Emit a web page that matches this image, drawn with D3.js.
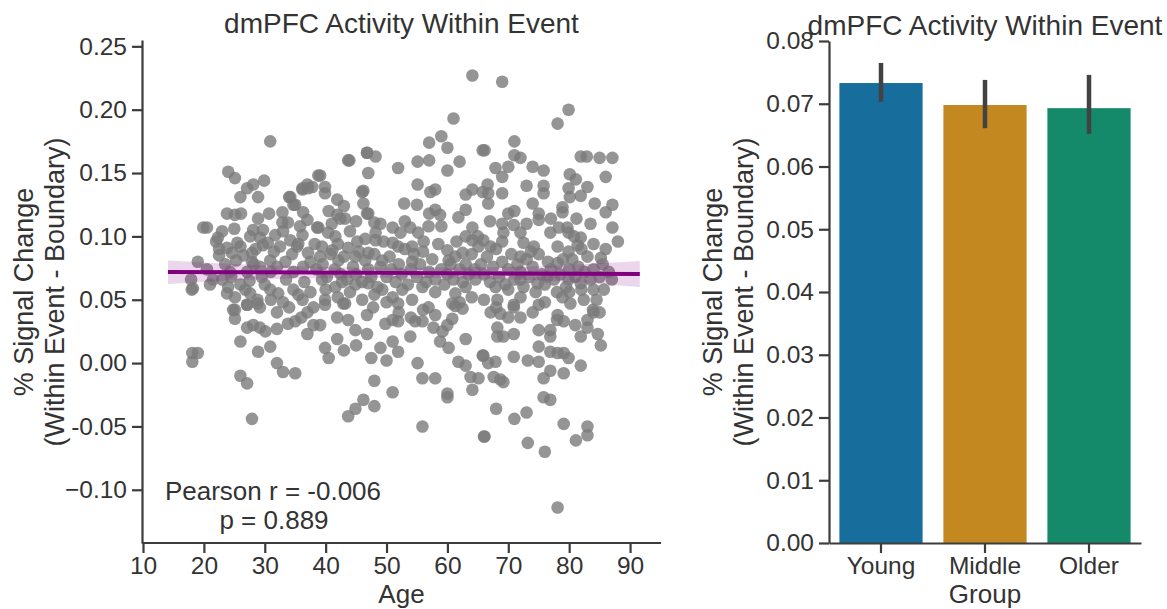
<!DOCTYPE html>
<html>
<head>
<meta charset="utf-8">
<script src="https://cdn.jsdelivr.net/npm/d3@7"></script>
<style>
  body { margin: 0; background: #fff; }
  svg text { font-family: "Liberation Sans", Arial, sans-serif; fill: #333; }
  .axis path, .axis line { stroke: #3c3c3c; stroke-width: 2.2; }
  .axis text { font-size: 24.5px; }
</style>
</head>
<body>
<svg id="chart" width="1167" height="609"></svg>
<script>
// scatter: [age, % signal change]
const scatterPoints = [
  [18.1,0.008],[19.0,0.008],[18.1,0.001],[18.2,0.059],[17.9,0.066],[19.0,0.080],[20.5,0.107],[19.9,0.107],
  [22.0,0.096],[21.5,0.066],[23.0,0.066],[20.5,0.074],[22.5,0.090],[21.0,0.062],[18.0,0.058],
  [24.0,0.151],[25.1,0.146],[27.1,0.138],[28.1,0.141],[26.0,0.131],[29.9,0.144],[28.9,0.131],[30.9,0.175],
  [23.8,0.118],[25.1,0.117],[26.1,0.118],[28.9,0.114],[30.7,0.118],[22.3,0.099],[23.8,0.091],[24.6,0.087],
  [25.3,0.081],[26.0,0.092],[27.6,0.100],[28.1,0.105],[29.7,0.105],[29.2,0.099],[27.9,0.087],[29.7,0.093],
  [31.7,0.101],[32.9,0.111],[33.8,0.111],[34.0,0.131],[35.0,0.125],[36.2,0.138],[37.0,0.141],[38.8,0.148],
  [24.3,0.072],[27.1,0.072],[27.9,0.080],[29.2,0.076],[30.9,0.081],[32.0,0.076],[33.4,0.080],[34.7,0.072],
  [36.3,0.076],[37.1,0.087],[35.3,0.092],[34.2,0.097],[36.2,0.101],[37.0,0.113],[38.6,0.107],
  [23.8,0.055],[25.1,0.052],[26.0,0.062],[27.6,0.055],[28.8,0.050],[24.8,0.042],[27.1,0.046],[29.2,0.044],
  [30.9,0.058],[32.2,0.055],[33.0,0.048],[34.7,0.058],[36.2,0.050],[37.0,0.040],[38.0,0.044],
  [25.1,0.042],[25.1,0.035],[27.1,0.028],[28.1,0.030],[29.2,0.028],[30.1,0.025],[26.0,0.017],[28.9,0.009],
  [30.9,0.013],[32.0,0.027],[33.8,0.031],[35.0,0.033],[37.0,0.023],[32.0,0.000],[33.0,-0.007],[35.0,-0.008],
  [26.0,-0.010],[27.1,-0.016],[27.9,-0.044],[27.1,0.046],[28.8,0.047],
  [64.1,0.227],[61.0,0.193],[57.0,0.174],[59.0,0.179],[60.0,0.170],[62.0,0.159],[65.8,0.168],
  [43.9,0.160],[46.8,0.166],[48.2,0.163],[47.0,0.150],[51.9,0.154],[55.1,0.159],[57.0,0.160],[60.0,0.152],
  [39.1,0.148],[39.9,0.139],[39.9,0.134],[41.9,0.129],[46.2,0.136],[46.2,0.126],[55.1,0.141],[57.2,0.135],
  [58.0,0.137],[52.9,0.126],[41.9,0.117],[43.2,0.114],[47.0,0.118],[48.0,0.111],[58.0,0.121],[58.8,0.117],
  [63.0,0.133],[64.1,0.137],[65.8,0.135],[61.8,0.115],[63.0,0.121],[56.9,0.108],[64.1,0.107],
  [38.8,0.107],[40.4,0.103],[41.6,0.100],[39.4,0.092],[41.1,0.089],[43.7,0.091],[45.2,0.096],[47.0,0.087],
  [48.2,0.103],[48.2,0.097],[51.0,0.107],[52.3,0.103],[53.9,0.107],[55.2,0.103],[56.1,0.096],[54.2,0.092],
  [51.9,0.092],[51.0,0.095],[60.0,0.089],[61.3,0.084],[62.5,0.087],[64.1,0.097],[65.1,0.092],[44.9,0.084],
  [46.5,0.081],[49.3,0.081],[42.1,0.081],[54.2,0.080],[60.2,0.081],[39.1,0.084],
  [39.4,0.066],[41.6,0.060],[42.7,0.064],[44.9,0.062],[47.0,0.063],[49.3,0.058],[51.0,0.052],[52.6,0.058],
  [54.2,0.050],[55.9,0.060],[58.0,0.056],[61.3,0.055],[63.0,0.060],[64.6,0.066],[39.9,0.050],[43.2,0.047],
  [47.8,0.044],[51.9,0.047],[56.9,0.044],[60.8,0.047],[62.5,0.043],
  [39.9,0.046],[42.9,0.047],[39.1,0.030],[41.9,0.036],[43.7,0.034],[44.9,0.026],[46.8,0.038],[46.8,0.023],
  [49.8,0.031],[51.0,0.034],[51.9,0.033],[51.0,0.017],[51.9,0.009],[49.0,0.012],[53.9,0.021],[54.7,0.033],
  [55.9,0.033],[57.7,0.028],[59.2,0.025],[58.8,0.017],[60.2,0.012],[60.8,0.035],[63.0,0.019],[61.3,0.045],
  [39.9,0.012],[41.9,0.019],[55.1,0.000],[65.8,0.006],[61.8,0.001],[63.0,-0.002],[63.8,-0.011],[65.1,-0.012],
  [64.1,-0.021],[55.9,-0.012],[58.0,-0.012],[60.0,-0.024],[60.0,-0.027],[48.0,-0.014],[51.0,-0.023],
  [46.2,-0.029],[44.9,-0.036],[43.7,-0.042],[48.0,-0.034],[55.9,-0.050],[66.0,-0.058],
  [69.0,0.222],[79.9,0.200],[78.1,0.189],[71.0,0.175],[66.1,0.168],[71.0,0.164],[72.0,0.162],[67.9,0.154],
  [70.0,0.155],[69.0,0.147],[74.0,0.155],[75.8,0.152],[81.9,0.163],[82.9,0.163],[85.0,0.162],[87.1,0.162],
  [86.0,0.147],[80.1,0.149],[81.1,0.145],[73.0,0.140],[75.8,0.140],[75.8,0.134],[79.9,0.138],[83.0,0.139],
  [81.9,0.132],[80.1,0.131],[66.6,0.141],[66.7,0.134],[66.7,0.126],[69.0,0.134],[74.0,0.126],[78.9,0.123],
  [78.9,0.119],[87.1,0.125],[86.0,0.119],[70.0,0.118],[75.0,0.118],[75.0,0.113],[69.0,0.110],[70.9,0.109],
  [72.0,0.103],[76.9,0.103],[78.3,0.107],[79.7,0.107],[79.9,0.103],[81.9,0.099],[84.0,0.094],[87.1,0.107],
  [88.0,0.096],[69.2,0.103],[72.5,0.095],[73.7,0.088],[74.2,0.092],[78.1,0.092],[79.9,0.088],[81.4,0.093],
  [85.2,0.083],[67.1,0.092],[65.9,0.097],[72.0,0.084],[78.1,0.079],
  [67.9,0.060],[70.0,0.058],[72.0,0.066],[74.8,0.063],[76.4,0.068],[79.9,0.066],[81.9,0.063],[84.0,0.058],
  [85.7,0.058],[68.2,0.050],[75.0,0.046],[78.9,0.052],[80.2,0.047],[82.4,0.050],[83.9,0.042],[70.9,0.044],
  [67.1,0.040],[68.7,0.039],[70.9,0.046],[72.0,0.036],[68.2,0.028],[68.2,0.021],[69.2,0.021],[70.9,0.023],
  [75.0,0.026],[76.9,0.026],[76.9,0.021],[78.1,0.038],[79.1,0.033],[83.0,0.034],[84.0,0.040],
  [81.9,0.021],[84.7,0.023],[85.2,0.014],[65.9,0.006],[66.7,0.000],[67.9,0.001],[70.9,0.005],[73.2,0.002],
  [75.0,0.001],[75.0,0.013],[76.9,0.009],[78.1,0.008],[79.1,0.008],[79.9,0.004],[81.9,-0.002],[76.9,-0.006],
  [75.8,-0.012],[79.1,-0.008],[67.6,-0.011],[68.7,-0.013],[69.2,-0.015],[75.8,-0.027],[76.9,-0.029],
  [68.0,-0.036],[71.0,-0.044],[73.0,-0.039],[79.1,-0.048],[81.1,-0.061],[83.0,-0.050],[83.0,-0.057],
  [66.1,-0.058],[73.2,-0.063],[76.0,-0.070],[78.1,-0.114],[86.5,0.072],[87.0,0.066],[85.5,0.078],
  [43.7,0.160],[46.8,0.166],[37.8,0.139],[34.2,0.131],[34.7,0.125],[36.2,0.137],[37.1,0.138],[46.0,0.135],
  [32.9,0.119],[36.3,0.119],[42.4,0.114],[46.8,0.118],
  [22.5,0.085],[23.5,0.078],[24.5,0.068],[25.5,0.095],[26.5,0.085],[27.5,0.065],[28.5,0.090],[29.5,0.068],
  [30.5,0.095],[31.5,0.088],[30.0,0.062],[26.8,0.058],[24.0,0.060],[23.0,0.104],[25.0,0.106],[28.2,0.078],
  [31.0,0.072],[32.5,0.092],[33.5,0.066],[34.5,0.086],[35.5,0.094],[36.5,0.064],[37.5,0.080],[38.2,0.094],
  [33.0,0.104],[35.8,0.108],[32.0,0.040],[34.0,0.044],[36.0,0.036],[38.0,0.030],[37.5,0.056],[35.5,0.054],
  [31.0,0.050],
  [38.5,0.074],[39.5,0.078],[40.2,0.068],[40.8,0.086],[41.5,0.074],[42.0,0.094],[42.5,0.070],[43.0,0.084],
  [43.5,0.066],[44.0,0.104],[44.5,0.076],[45.0,0.070],[45.5,0.088],[46.0,0.064],[46.5,0.098],[47.0,0.074],
  [47.5,0.068],[48.0,0.086],[48.5,0.060],[49.0,0.076],[49.5,0.096],[50.0,0.068],[50.5,0.084],[40.0,0.058],
  [42.0,0.052],[44.0,0.056],[46.0,0.050],[48.0,0.054],[50.0,0.048],[41.0,0.110],[45.0,0.112],[49.0,0.110],
  [43.0,0.124],[40.5,0.120],
  [50.8,0.074],[51.5,0.064],[52.0,0.078],[52.5,0.070],[53.0,0.090],[53.5,0.062],[54.0,0.074],[54.5,0.086],
  [55.0,0.068],[55.5,0.078],[56.0,0.088],[56.5,0.064],[57.0,0.072],[57.5,0.082],[58.0,0.066],[58.5,0.094],
  [59.0,0.074],[59.5,0.062],[60.0,0.070],[60.5,0.078],[61.0,0.066],[61.5,0.096],[62.0,0.074],[62.5,0.064],
  [63.0,0.078],[63.5,0.070],[64.0,0.086],[64.5,0.074],[52.0,0.040],[54.0,0.036],[56.0,0.042],[58.0,0.038],
  [60.0,0.030],[62.0,0.048],[64.0,0.052],[53.0,0.112],[57.0,0.118],[59.0,0.108],[63.0,0.100],[55.0,0.125],
  [65.5,0.078],[66.0,0.070],[66.5,0.084],[67.0,0.064],[67.5,0.076],[68.0,0.090],[68.5,0.068],[69.0,0.080],
  [69.5,0.062],[70.0,0.074],[70.5,0.086],[71.0,0.066],[71.5,0.078],[72.0,0.072],[72.5,0.060],[73.0,0.082],
  [73.5,0.068],[74.0,0.076],[74.5,0.056],[75.0,0.086],[75.5,0.070],[76.0,0.062],[76.5,0.080],[77.0,0.074],
  [77.5,0.066],[78.0,0.056],[78.5,0.070],[79.0,0.082],[79.5,0.060],[80.0,0.074],[66.0,0.050],[68.0,0.044],
  [70.0,0.036],[72.0,0.052],[74.0,0.040],[76.0,0.048],[78.0,0.034],[80.0,0.056],[67.0,0.112],[71.0,0.120],
  [73.0,0.110],[77.0,0.114],[65.0,0.100],[69.0,0.096],
  [80.5,0.082],[81.0,0.068],[81.5,0.076],[82.0,0.058],[82.5,0.072],[83.0,0.084],[83.5,0.066],[84.0,0.074],
  [84.5,0.050],[85.0,0.068],[82.0,0.090],[80.8,0.100],[83.5,0.110],[84.2,0.126],[81.2,0.114],[86.0,0.090],
  [85.0,0.040],[83.0,0.028],[81.0,0.030],
  [40.5,0.004],[43.0,0.010],[45.0,0.014],[47.5,0.004],[50.0,0.002]
];

// regression fit and 95% CI band
const fitAges = [14.1, 30, 50, 70, 91.6];
const fitValues = [0.0719, 0.0716, 0.0712, 0.0708, 0.0703];
const fitLower = [0.0625, 0.0662, 0.0673, 0.0662, 0.0600];
const fitUpper = [0.0810, 0.0772, 0.0752, 0.0758, 0.0805];

const ageTicks = [10, 20, 30, 40, 50, 60, 70, 80, 90];
const scatterYTicks = [-0.10, -0.05, 0.00, 0.05, 0.10, 0.15, 0.20, 0.25];
const scatterYTickLabels = ["\u22120.10", "-0.05", "0.00", "0.05", "0.10", "0.15", "0.20", "0.25"];

// bar chart
const groups = ["Young", "Middle", "Older"];
const groupMeans = [0.0733, 0.0698, 0.0693];
const groupCiLow = [0.0703, 0.0661, 0.0652];
const groupCiHigh = [0.0765, 0.0738, 0.0746];
const groupColors = ["#176d9c", "#c38820", "#158a6a"];
const barYTicks = [0, 0.01, 0.02, 0.03, 0.04, 0.05, 0.06, 0.07, 0.08];

const titleText = "dmPFC Activity Within Event";
const yLabelLines = ["% Signal Change", "(Within Event - Boundary)"];

const svg = d3.select("#chart");

// ---------- left: scatter ----------
const x = d3.scaleLinear().domain([10, 95]).range([143, 660.5]);
const y = d3.scaleLinear().domain([-0.142, 0.255]).range([543, 40]);

const gL = svg.append("g");

gL.append("g")
  .selectAll("circle")
  .data(scatterPoints)
  .join("circle")
  .attr("cx", d => x(d[0]))
  .attr("cy", d => y(d[1]))
  .attr("r", 6.3)
  .attr("fill", "#7a7a7a")
  .attr("fill-opacity", 0.8);

const band = d3.area()
  .x((d, i) => x(fitAges[i]))
  .y0((d, i) => y(fitLower[i]))
  .y1((d, i) => y(fitUpper[i]))
  .curve(d3.curveMonotoneX);
gL.append("path")
  .datum(fitAges)
  .attr("d", band)
  .attr("fill", "#800080")
  .attr("fill-opacity", 0.16);

const fitLine = d3.line()
  .x((d, i) => x(fitAges[i]))
  .y((d, i) => y(fitValues[i]));
gL.append("path")
  .datum(fitAges)
  .attr("d", fitLine)
  .attr("fill", "none")
  .attr("stroke", "#800080")
  .attr("stroke-width", 4);

gL.append("g")
  .attr("class", "axis")
  .attr("transform", "translate(0,543)")
  .call(d3.axisBottom(x).tickValues(ageTicks).tickSize(10).tickSizeOuter(0).tickPadding(4))
  .call(g => g.select(".domain").attr("d", "M142,0H661"));

gL.append("g")
  .attr("class", "axis")
  .attr("transform", "translate(142,0)")
  .call(d3.axisLeft(y).tickValues(scatterYTicks).tickSize(10).tickSizeOuter(0).tickPadding(5)
    .tickFormat((d, i) => scatterYTickLabels[i]));

gL.selectAll(".axis text").attr("fill", "#333");

gL.append("text")
  .attr("x", 401.5).attr("y", 33)
  .attr("text-anchor", "middle")
  .style("font-size", "28px")
  .text(titleText);

gL.append("text")
  .attr("x", 401.5).attr("y", 603)
  .attr("text-anchor", "middle")
  .style("font-size", "26px")
  .text("Age");

gL.append("text")
  .attr("transform", "translate(0,292) rotate(-90)")
  .attr("text-anchor", "middle")
  .style("font-size", "27px")
  .selectAll("tspan")
  .data(yLabelLines)
  .join("tspan")
  .attr("x", 0)
  .attr("y", (d, i) => 33 + i * 31)
  .text(d => d);

gL.append("text")
  .attr("x", 273).attr("y", 500)
  .attr("text-anchor", "middle")
  .style("font-size", "26px")
  .text("Pearson r = -0.006");
gL.append("text")
  .attr("x", 274).attr("y", 529)
  .attr("text-anchor", "middle")
  .style("font-size", "26px")
  .text("p = 0.889");

// ---------- right: bars ----------
const xb = d3.scaleBand().domain(groups).range([829, 1141]).paddingInner(0.2).paddingOuter(0.1);
const yb = d3.scaleLinear().domain([0, 0.08]).range([543, 41]);

const gR = svg.append("g");

gR.append("g")
  .selectAll("rect")
  .data(groups)
  .join("rect")
  .attr("x", d => xb(d))
  .attr("width", xb.bandwidth())
  .attr("y", (d, i) => yb(groupMeans[i]))
  .attr("height", (d, i) => yb(0) - yb(groupMeans[i]))
  .attr("fill", (d, i) => groupColors[i]);

gR.append("g")
  .selectAll("line")
  .data(groups)
  .join("line")
  .attr("x1", d => xb(d) + xb.bandwidth() / 2)
  .attr("x2", d => xb(d) + xb.bandwidth() / 2)
  .attr("y1", (d, i) => yb(groupCiLow[i]))
  .attr("y2", (d, i) => yb(groupCiHigh[i]))
  .attr("stroke", "#424242")
  .attr("stroke-width", 4.5);

gR.append("g")
  .attr("class", "axis")
  .attr("transform", "translate(0,543)")
  .call(d3.axisBottom(xb).tickSize(10).tickSizeOuter(0).tickPadding(4));

gR.append("g")
  .attr("class", "axis")
  .attr("transform", "translate(829,0)")
  .call(d3.axisLeft(yb).tickValues(barYTicks).tickSize(10).tickSizeOuter(0).tickPadding(5)
    .tickFormat(d3.format(".2f")));

gR.selectAll(".axis text").attr("fill", "#333");

gR.append("text")
  .attr("x", 985).attr("y", 35)
  .attr("text-anchor", "middle")
  .style("font-size", "28px")
  .text(titleText);

gR.append("text")
  .attr("x", 985).attr("y", 603)
  .attr("text-anchor", "middle")
  .style("font-size", "26px")
  .text("Group");

gR.append("text")
  .attr("transform", "translate(0,292) rotate(-90)")
  .attr("text-anchor", "middle")
  .style("font-size", "27px")
  .selectAll("tspan")
  .data(yLabelLines)
  .join("tspan")
  .attr("x", 0)
  .attr("y", (d, i) => 722 + i * 31)
  .text(d => d);
</script>
</body>
</html>
